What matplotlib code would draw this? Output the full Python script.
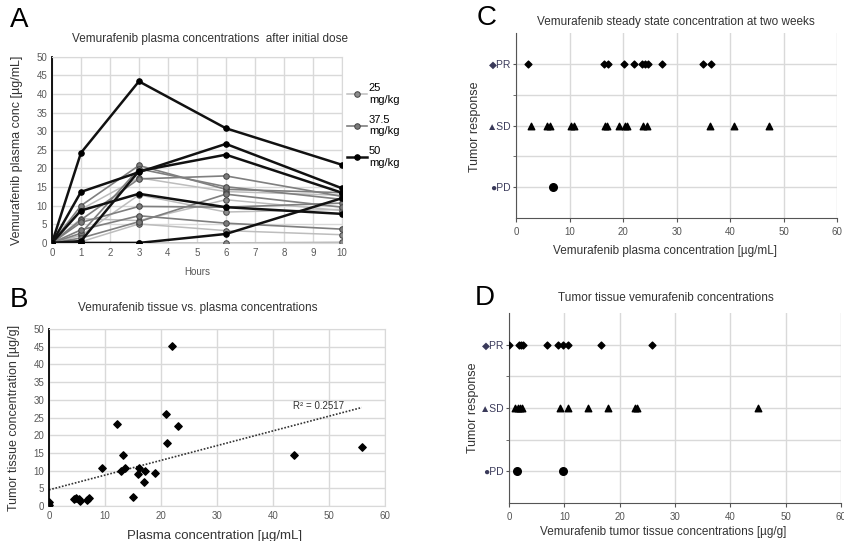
import numpy as np
import matplotlib
matplotlib.use('Agg')
import matplotlib.pyplot as plt

plt.rcParams['font.family'] = ['Liberation Sans', 'DejaVu Sans']

# ---- Panel A: plasma concentration after initial dose ----
hours = [0, 1, 3, 6, 10]
conc_25 = [
    [0, 9.0, 17.5, 13.8, 12.8],
    [0, 2.0, 12.9, 8.3, 9.0],
    [0, 0.3, 5.1, 3.3, 2.2],
    [0, 0.0, 0.0, 0.0, 0.2],
    [0, 6.5, 6.0, 11.6, 8.7],
]
conc_37 = [
    [0, 10.0, 20.8, 14.4, 13.5],
    [0, 6.2, 17.2, 18.0, 12.5],
    [0, 2.6, 19.9, 15.1, 11.7],
    [0, 5.5, 9.8, 9.6, 10.7],
    [0, 3.5, 7.3, 5.3, 3.7],
    [0, 1.3, 5.7, 13.1, 9.6],
]
conc_50 = [
    [0, 24.2, 43.4, 30.8, 21.0],
    [0, 13.7, 19.0, 26.6, 14.7],
    [0, 0.5, 19.3, 23.7, 13.5],
    [0, 8.7, 13.2, 9.6, 7.8],
    [0, 0.0, 0.0, 2.4, 12.0],
]

# ---- Panel B: tissue vs plasma ----
plasma_b = [0.0, 0.0, 4.5, 4.9, 5.4, 5.5, 6.8, 7.2, 9.4, 12.1, 13.2, 12.8, 13.6,
            14.9, 16.0, 15.8, 17.0, 17.1, 18.9, 20.8, 21.0, 21.9, 23.1, 43.7, 55.8]
tissue_b = [1.2, 0.2, 2.0, 2.2, 1.9, 1.5, 1.7, 2.2, 10.7, 23.2, 14.5, 10.0, 10.6,
            2.6, 10.75, 9.1, 6.9, 10.0, 9.2, 25.9, 17.9, 45.1, 22.7, 14.4, 16.75]

# ---- Panel C: steady state plasma concentration by response ----
c_pr = [2.3, 16.5, 17.2, 20.1, 22.1, 23.5, 24.1, 24.6, 27.2, 35.0, 36.5]
c_sd = [2.8, 5.7, 6.4, 10.2, 10.8, 16.7, 17.0, 19.2, 20.3, 20.7, 23.8, 24.4,
        36.2, 40.8, 47.3]
c_pd = [6.9]

# ---- Panel D: tumor tissue concentration by response ----
d_pr = [0.0, 1.8, 2.1, 2.5, 6.8, 8.9, 9.8, 10.6, 16.7, 25.8]
d_sd = [1.1, 1.6, 2.0, 2.4, 9.2, 10.6, 14.3, 17.8, 22.8, 23.1, 45.0]
d_pd = [1.5, 9.8]

response_labels = ['\u25cfPD', '\u25b2SD', '\u25c6PR']

grid_c = '#d9d9d9'
tick_c = '#595959'

fig = plt.figure(figsize=(8.45, 5.41), dpi=100)

def style_axes(ax):
    ax.grid(True, color=grid_c, linewidth=1)
    ax.set_axisbelow(True)
    for s in ['top', 'right', 'bottom']:
        ax.spines[s].set_color(grid_c)
    ax.tick_params(labelsize=7, colors=tick_c, length=0)

# A
axA = fig.add_axes([0.0615, 0.551, 0.343, 0.344])
style_axes(axA)
axA.spines['left'].set_color('black')
axA.spines['left'].set_linewidth(1.3)
groups = [(conc_25, '#bdbdbd', '#8c8c8c', 1.1, '25\nmg/kg'),
          (conc_37, '#7f7f7f', '#7a7a7a', 1.2, '37.5\nmg/kg'),
          (conc_50, '#111111', '#000000', 1.8, '50\nmg/kg')]
handles = []
for series, lc, mc, lw, lab in groups:
    for i, vals in enumerate(series):
        h, = axA.plot(hours, vals, color=lc, lw=lw, marker='o', ms=4,
                      mfc=mc, mec='#444444' if mc != '#000000' else 'black',
                      mew=0.7, label=lab if i == 0 else None, zorder=3)
        if i == 0:
            handles.append(h)
axA.set_xlim(0, 10)
axA.set_ylim(0, 50)
axA.set_xticks(range(0, 11))
axA.set_yticks(range(0, 51, 5))
axA.legend(handles=handles, loc='upper left', bbox_to_anchor=(0.99, 0.9),
           frameon=False, fontsize=8, handlelength=1.8, labelspacing=0.9,
           handletextpad=0.2, borderaxespad=0.3)

# B
axB = fig.add_axes([0.058, 0.0647, 0.398, 0.327])
style_axes(axB)
axB.spines['left'].set_color('black')
axB.spines['left'].set_linewidth(1.3)
axB.scatter(plasma_b, tissue_b, marker='D', s=14, color='black', zorder=3)
slope, icpt = np.polyfit(plasma_b, tissue_b, 1)
xfit = np.array([0, max(plasma_b)])
axB.plot(xfit, icpt + slope * xfit, color='#333333', ls=(0, (1, 1)), lw=1.2, zorder=2)
axB.text(43.5, 27.3, 'R\u00b2 = 0.2517', fontsize=7, color='#333333')
axB.set_xlim(0, 60)
axB.set_ylim(0, 50)
axB.set_xticks(range(0, 61, 10))
axB.set_yticks(range(0, 51, 5))

# C and D
def response_axes(rect, pr, sd, pd):
    ax = fig.add_axes(rect)
    ax.grid(True, which='both', color=grid_c, linewidth=1)
    ax.set_axisbelow(True)
    for s in ['top', 'right']:
        ax.spines[s].set_visible(False)
    ax.spines['left'].set_color('#555555')
    ax.spines['bottom'].set_color('#555555')
    ax.scatter(pr, [3] * len(pr), marker='D', s=12, color='black', zorder=3)
    ax.scatter(sd, [2] * len(sd), marker='^', s=22, color='black', zorder=3)
    ax.scatter(pd, [1] * len(pd), marker='o', s=30, color='black', zorder=3)
    ax.set_xlim(0, 60)
    ax.set_ylim(0.5, 3.5)
    ax.set_xticks(range(0, 61, 10))
    ax.set_yticks([1, 2, 3])
    ax.set_yticks([1.5, 2.5], minor=True)
    ax.set_yticklabels(response_labels)
    ax.tick_params(axis='y', which='both', length=2, pad=1.5, colors='#555555',
                   labelsize=7.5)
    ax.tick_params(axis='x', length=3, colors='#555555', labelsize=7)
    for t in ax.get_yticklabels():
        t.set_color('#3a3a5a')
    return ax

axC = response_axes([0.6107, 0.597, 0.380, 0.342], c_pr, c_sd, c_pd)
axD = response_axes([0.6024, 0.0702, 0.393, 0.351], d_pr, d_sd, d_pd)

# texts
def ftext(x, y, s, **kw):
    fig.text(x / 845, 1 - y / 541, s, **kw)

ftext(10, 20, 'A', fontsize=20, va='center')
ftext(10, 300, 'B', fontsize=20, va='center')
ftext(477, 18, 'C', fontsize=20, va='center')
ftext(475, 298, 'D', fontsize=20, va='center')

ftext(210, 39, 'Vemurafenib plasma concentrations  after initial dose', fontsize=8.5,
      ha='center', va='center', color='#333333')
ftext(198, 308, 'Vemurafenib tissue vs. plasma concentrations', fontsize=8.5,
      ha='center', va='center', color='#333333')
ftext(676, 22, 'Vemurafenib steady state concentration at two weeks', fontsize=8.5,
      ha='center', va='center', color='#333333')
ftext(666, 298, 'Tumor tissue vemurafenib concentrations', fontsize=8.5,
      ha='center', va='center', color='#333333')

ftext(17, 150, 'Vemurafenib plasma conc [\u00b5g/mL]', fontsize=9, rotation=90,
      ha='center', va='center', color='#333333')
ftext(14, 418, 'Tumor tissue concentration [\u00b5g/g]', fontsize=9, rotation=90,
      ha='center', va='center', color='#333333')
ftext(475, 127, 'Tumor response', fontsize=9, rotation=90,
      ha='center', va='center', color='#333333')
ftext(473, 408, 'Tumor response', fontsize=9, rotation=90,
      ha='center', va='center', color='#333333')

ftext(197, 272, 'Hours', fontsize=7, ha='center', va='center', color='#555555')
ftext(215, 536, 'Plasma concentration [\u00b5g/mL]', fontsize=9.5, ha='center',
      va='center', color='#333333')
ftext(665, 251, 'Vemurafenib plasma concentration [\u00b5g/mL]', fontsize=8.5,
      ha='center', va='center', color='#333333')
ftext(663, 532, 'Vemurafenib tumor tissue concentrations [\u00b5g/g]', fontsize=8.5,
      ha='center', va='center', color='#333333')

fig.savefig('out.png', dpi=100)
